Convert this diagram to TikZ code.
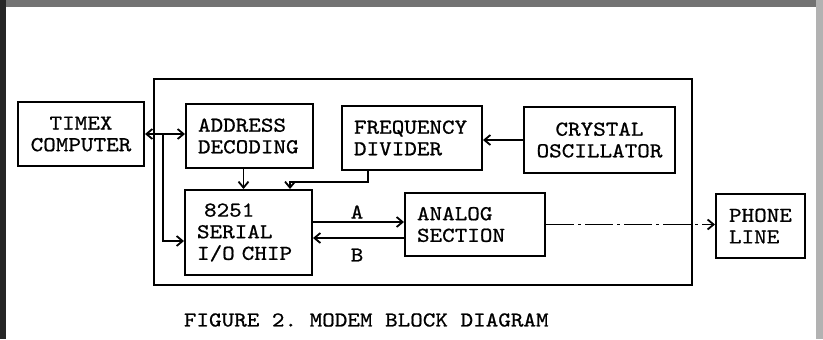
\documentclass[tikz,border=0pt]{standalone}
\usepackage{fontspec}
\newfontfamily\cour{Latin Modern Mono}[FakeStretch=1.13,FakeBold=0.8]
\usetikzlibrary{arrows.meta}
\frenchspacing
\begin{document}
\begin{tikzpicture}[x=0.5pt,y=-0.5pt,
  line width=0.9pt,
  >={Straight Barb[length=3pt,width=5pt]},
  every node/.style={font=\cour\frenchspacing\fontsize{10.6}{10.8}\selectfont},
  blk/.style={draw,line width=1pt,minimum height=#1,inner sep=0pt,align=left},
  lbl/.style={inner sep=0pt}]
\useasboundingbox (0,0) rectangle (823,339);
% scanned page edges
\fill[black!55] (0,0) rectangle (823,7);
\fill[black!85] (0,0) rectangle (6,339);
\fill[black!30] (816,0) rectangle (823,339);
% frame
\draw (154,79) rectangle (692,285);
% blocks
\node[blk=32pt,minimum width=63pt,align=center] (timex) at (81,134) {TIMEX\\COMPUTER};
\node[blk=32pt,text width=51.5pt,minimum width=63.5pt] (addr) at (249.5,136) {ADDRESS\\DECODING};
\node[blk=32pt,text width=58pt,minimum width=70pt] (freq) at (412,138) {FREQUENCY\\DIVIDER};
\node[blk=33pt,minimum width=75.5pt,align=center] (crys) at (599.5,140) {CRYSTAL\\OSCILLATOR};
\node[blk=42.5pt,text width=51.5pt,minimum width=63.5pt] (chip) at (248.5,232.5) {\ 8251\\SERIAL\\I/O CHIP};
\node[blk=31.5pt,text width=58pt,minimum width=70pt] (analog) at (475,224.5) {ANALOG\\SECTION};
\node[blk=32pt,text width=31.5pt,minimum width=44.5pt] (phone) at (760.5,226) {PHONE\\LINE};
% connectors
\draw[->] (crys.west) -- (crys.west -| freq.east);
\draw[<->] (timex.east) -- (timex.east -| addr.west);
\coordinate (br) at (163,134);
\draw[->] (br) |- ([yshift=-4.25pt]chip.west);
\draw[->] ([xshift=-3pt]addr.south) -- ([xshift=-3pt]addr.south |- chip.north);
\coordinate (k) at (290,182);
\draw[->] ([xshift=-22pt]freq.south) |- (k) -- (k |- chip.north);
\draw[->] ([yshift=5.25pt]chip.east) -- ([yshift=5.25pt]chip.east -| analog.west);
\draw[->] ([yshift=-6.75pt]analog.west) -- ([yshift=-6.75pt]analog.west -| chip.east);
\node[lbl] (la) at (357,212) {A};
\node[lbl] (lb) at (357,255) {B};
\draw[->,dash pattern=on 14pt off 2pt on 1.5pt off 2pt] (analog.east) -- (analog.east -| phone.west);
% caption
\node[lbl,anchor=west] (cap) at (183,320) {FIGURE 2. MODEM BLOCK DIAGRAM};
\end{tikzpicture}
\end{document}
